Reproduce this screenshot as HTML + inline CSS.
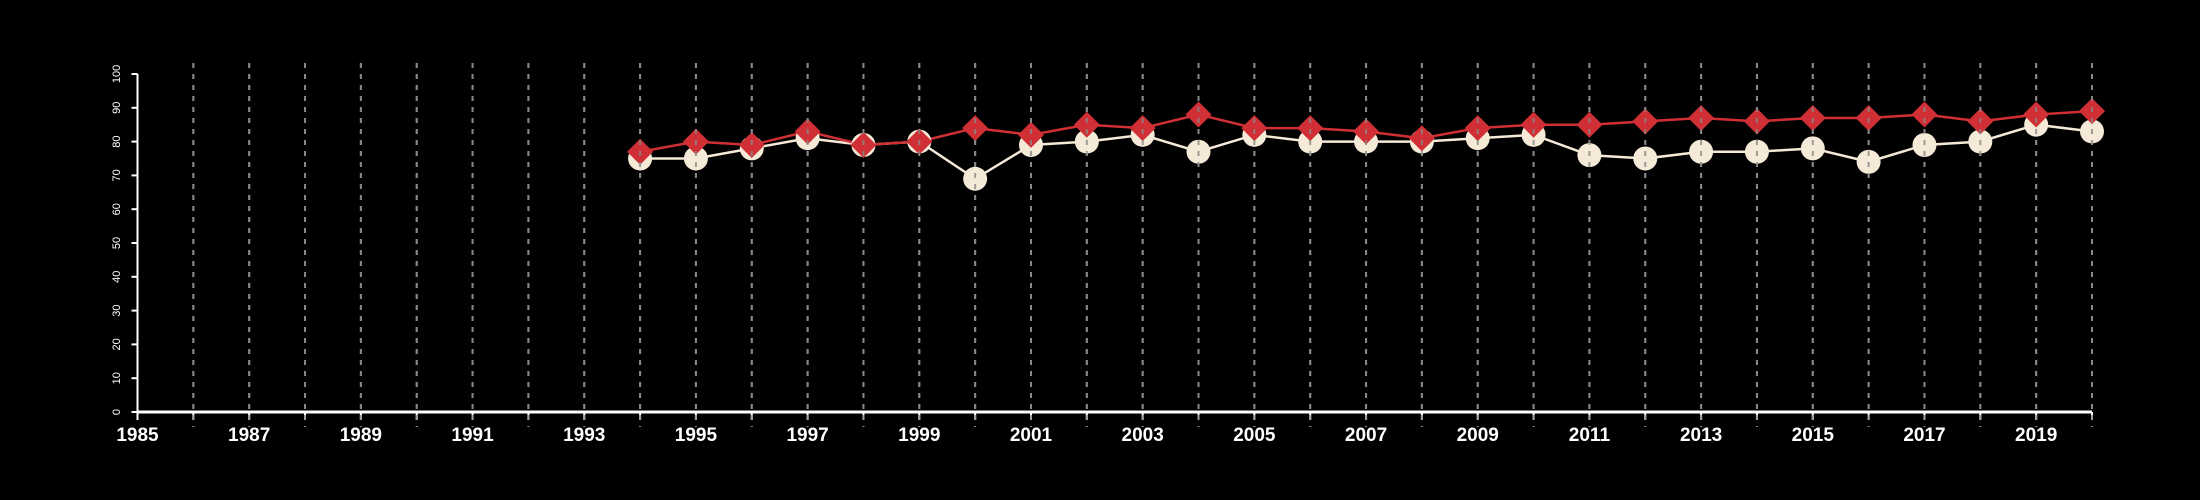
<!DOCTYPE html>
<html><head><meta charset="utf-8"><style>
html,body{margin:0;padding:0;background:#000;}
svg{display:block;font-family:"Liberation Sans",Arial,sans-serif;}
</style></head><body>
<svg id="chart" width="2200" height="500" viewBox="0 0 2200 500" xmlns="http://www.w3.org/2000/svg">
<rect width="2200" height="500" fill="#000"/>
<g id="grid"></g><g id="axes"></g><g id="series"></g>
</svg>
<script>
const years = [1994,1995,1996,1997,1998,1999,2000,2001,2002,2003,2004,2005,2006,2007,2008,2009,2010,2011,2012,2013,2014,2015,2016,2017,2018,2019,2020];
const seriesWhite = [75,75,78,81,79,80,69,79,80,82,77,82,80,80,80,81,82,76,75,77,77,78,74,79,80,85,83];
const seriesRed = [77,80,79,83,79,80,84,82,85,84,88,84,84,83,81,84,85,85,86,87,86,87,87,88,86,88,89];
const yTicks = [0,10,20,30,40,50,60,70,80,90,100];
const xLabels = [1985,1987,1989,1991,1993,1995,1997,1999,2001,2003,2005,2007,2009,2011,2013,2015,2017,2019];
const xMin=1985,xMax=2020;
const X0=137.5,X1=2092,Y0=412,Y1=74;
const sx=v=>X0+(v-xMin)/(xMax-xMin)*(X1-X0);
const sy=v=>Y0-v/100*(Y0-Y1);
const NS="http://www.w3.org/2000/svg";
function mk(tag,attrs,parent){const e=document.createElementNS(NS,tag);for(const k in attrs)e.setAttribute(k,attrs[k]);parent.appendChild(e);return e;}
const grid=document.getElementById('grid'),axes=document.getElementById('axes'),ser=document.getElementById('series');
for(let y=xMin+1;y<=xMax;y++){
  const l=mk('line',{x1:sx(y),x2:sx(y),y1:63,y2:427,stroke:'#888','stroke-width':2,'stroke-dasharray':'5,6'},grid);
  
  
}
const xa=mk('line',{x1:X0,x2:X1,y1:Y0,y2:Y0,stroke:'#fff','stroke-width':3},axes);


const ya=mk('line',{x1:X0,x2:X0,y1:Y1,y2:Y0,stroke:'#fff','stroke-width':2},axes);


for(let y=xMin;y<=xMax;y++){
  const t=mk('line',{x1:sx(y),x2:sx(y),y1:Y0,y2:Y0+8,stroke:'#fff','stroke-width':2},axes);
  
  
}
xLabels.forEach(v=>{
  const t=mk('text',{x:sx(v),y:441,fill:'#fff','font-size':19,'font-weight':'bold','text-anchor':'middle'},axes);
  t.textContent=v;
  
  
});
yTicks.forEach(v=>{
  const t=mk('line',{x1:X0-6,x2:X0,y1:sy(v),y2:sy(v),stroke:'#fff','stroke-width':2},axes);
  
  
  const l=mk('text',{x:0,y:0,fill:'#fff','font-size':11,'text-anchor':'middle',transform:`translate(120,${sy(v)}) rotate(-90)`},axes);
  l.textContent=v;
  
  
});
const pw=mk('polyline',{points:years.map((y,i)=>sx(y)+','+sy(seriesWhite[i])).join(' '),fill:'none',stroke:'#f5e9d8','stroke-width':2.5},ser);


const pr=mk('polyline',{points:years.map((y,i)=>sx(y)+','+sy(seriesRed[i])).join(' '),fill:'none',stroke:'#d03035','stroke-width':2.5},ser);


years.forEach((y,i)=>{
  const c=mk('circle',{cx:sx(y),cy:sy(seriesWhite[i]),r:12,fill:'#f5e9d8'},ser);
  
  
});
years.forEach((y,i)=>{
  const x=sx(y),yy=sy(seriesRed[i]),s=13;
  const d=mk('polygon',{points:`${x},${yy-s} ${x+s},${yy} ${x},${yy+s} ${x-s},${yy}`,fill:'#d03035'},ser);
  
  
});
// dashed grid visible over markers
for(let y=xMin+1;y<=xMax;y++){
  const l=mk('line',{x1:sx(y),x2:sx(y),y1:63,y2:427,stroke:'#888','stroke-width':2,'stroke-dasharray':'5,6',opacity:0.8},ser);
  
  
}
</script>
</body></html>
